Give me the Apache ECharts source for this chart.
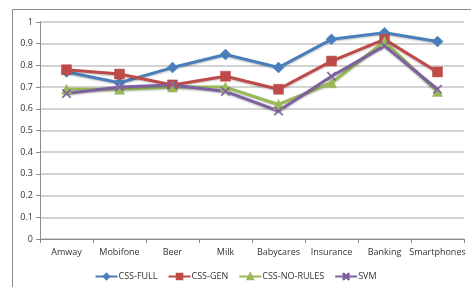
<!DOCTYPE html>
<html><head><meta charset="utf-8">
<script src="https://cdn.jsdelivr.net/npm/echarts@6/dist/echarts.min.js"></script>
<style>html,body{margin:0;padding:0;background:#fff}#c{width:471px;height:287px}</style>
</head><body><div id="c"></div>
<script>
const categories = ['Amway','Mobifone','Beer','Milk','Babycares','Insurance','Banking','Smartphones'];
const cssFull = [0.77,0.72,0.79,0.85,0.79,0.92,0.95,0.91];
const cssGen = [0.78,0.76,0.71,0.75,0.69,0.82,0.92,0.77];
const cssNoRules = [0.69,0.69,0.70,0.70,0.62,0.72,0.91,0.68];
const svm = [0.67,0.70,0.71,0.68,0.59,0.75,0.89,0.69];
const yTicks = [0,0.1,0.2,0.3,0.4,0.5,0.6,0.7,0.8,0.9,1];

const xPath = 'path://M1,0 L5,4 L9,0 L10,1 L6,5 L10,9 L9,10 L5,6 L1,10 L0,9 L4,5 L0,1 Z';
function mk(name, data, color, symbol, size){
  return {name, type:'line', data, symbol, symbolSize:size, showAllSymbol:true,
    lineStyle:{color, width:3, shadowColor:'rgba(0,0,0,0.25)', shadowBlur:2, shadowOffsetY:1},
    itemStyle:{color, borderColor:color, borderWidth:0.5}};
}
const chart = echarts.init(document.getElementById('c'));
chart.setOption({
  animation:false,
  graphic:[{type:'rect', shape:{x:12.5,y:9.5,width:480,height:300}, style:{fill:'none', stroke:'#8c8c8c', lineWidth:1}, z:-1}],
  grid:{left:40, top:22, right:7, bottom:48},
  xAxis:{type:'category', data:categories, boundaryGap:true,
    axisLine:{lineStyle:{color:'#8c8c8c'}},
    axisTick:{show:true, alignWithLabel:false, length:4, inside:false, lineStyle:{color:'#8c8c8c'}},
    axisLabel:{color:'#333', fontSize:9, fontFamily:'Open Sans, sans-serif', margin:9, interval:0}},
  yAxis:{type:'value', min:0, max:1, interval:0.1,
    axisLine:{show:true, lineStyle:{color:'#8c8c8c'}},
    axisTick:{show:true, length:4, lineStyle:{color:'#8c8c8c'}},
    splitLine:{lineStyle:{color:'#c4c4c4', width:1.5}},
    axisLabel:{color:'#333', fontSize:9, fontFamily:'Open Sans, sans-serif', margin:7,
      formatter:v=>{const t=yTicks.find(x=>Math.abs(x-v)<1e-9);return t===undefined?'':String(t);}}},
  legend:{top:267, left:'center', itemWidth:22, itemHeight:7, itemGap:10,
    textStyle:{color:'#333', fontSize:9, fontFamily:'Open Sans, sans-serif', padding:[0,0,0,-4]},
    data:['CSS-FULL','CSS-GEN','CSS-NO-RULES','SVM']},
  series:[
    mk('CSS-FULL', cssFull, '#4a7ebb', 'diamond', 11),
    mk('CSS-GEN', cssGen, '#be4b48', 'rect', 10),
    mk('CSS-NO-RULES', cssNoRules, '#98b954', 'triangle', 10),
    mk('SVM', svm, '#7d60a0', xPath, 9)
  ]
});
</script></body></html>
